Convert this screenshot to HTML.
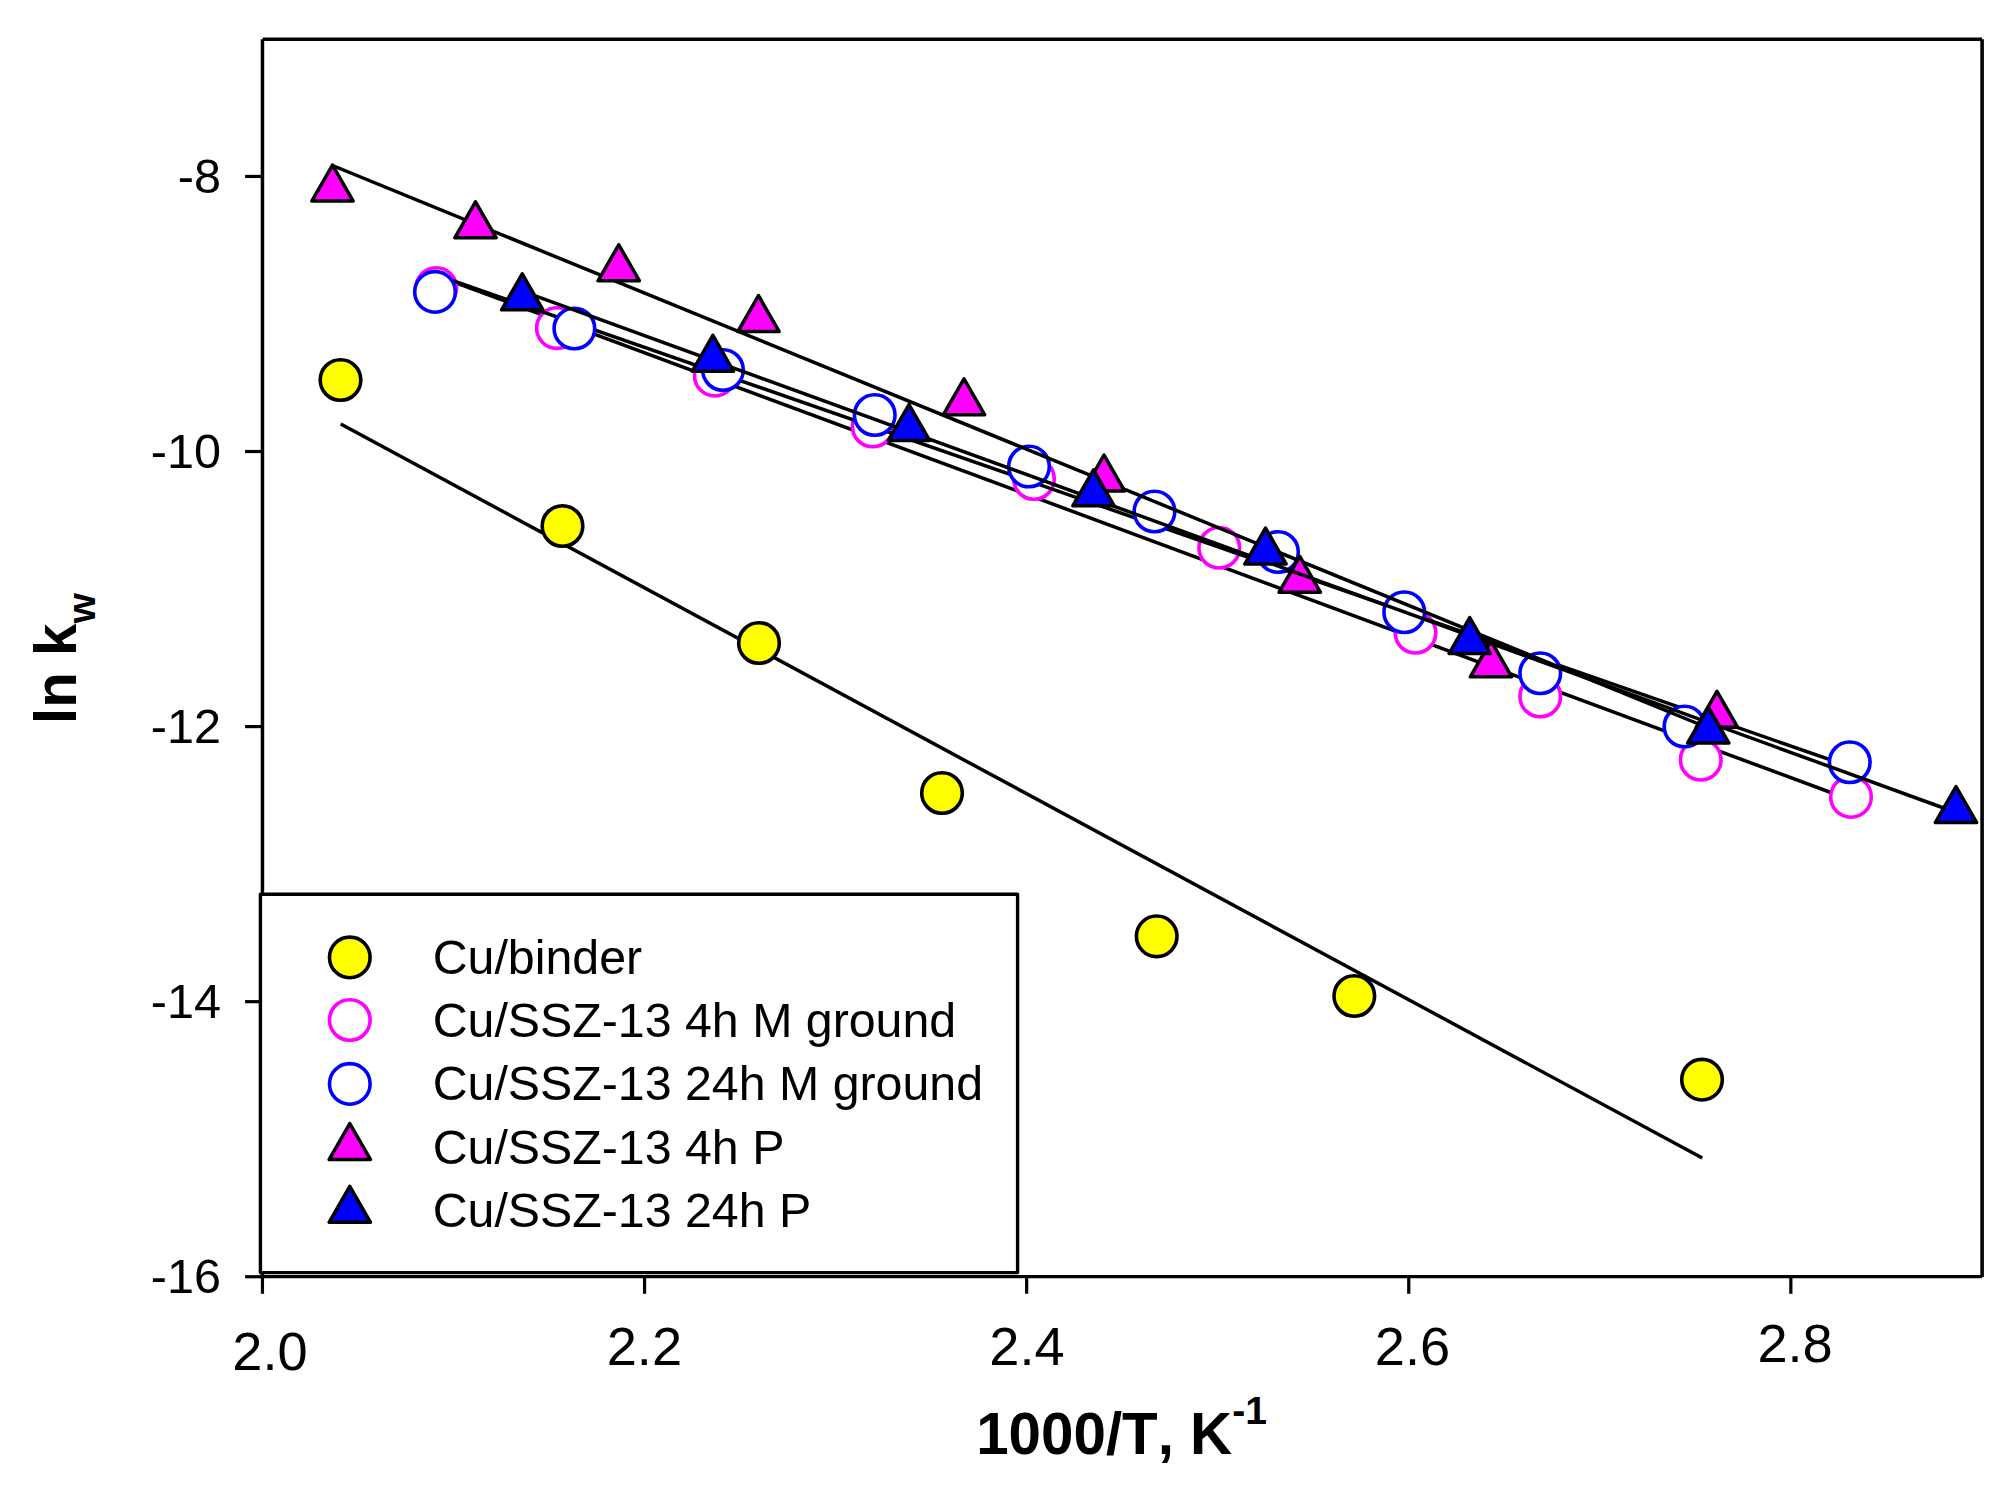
<!DOCTYPE html>
<html><head><meta charset="utf-8"><title>ln kw vs 1000/T</title>
<style>
html,body{margin:0;padding:0;background:#fff;}
svg{display:block}
text{font-family:"Liberation Sans",sans-serif;fill:#000;font-kerning:none}
.b{font-weight:bold}
</style></head><body>
<svg width="2016" height="1496" viewBox="0 0 2016 1496">
<rect x="0" y="0" width="2016" height="1496" fill="#fff"/>
<line x1="262.45" y1="39.27" x2="262.45" y2="1278.20" stroke="#000" stroke-width="3.5"/>
<line x1="262.75" y1="39.27" x2="1982.10" y2="39.27" stroke="#000" stroke-width="3.5"/>
<line x1="1982.10" y1="39.27" x2="1982.10" y2="1276.90" stroke="#000" stroke-width="3.6"/>
<line x1="262.45" y1="1276.60" x2="1982.10" y2="1276.60" stroke="#000" stroke-width="3.2"/>
<line x1="245.10" y1="176.45" x2="262.45" y2="176.45" stroke="#000" stroke-width="3.2"/>
<line x1="245.10" y1="451.52" x2="262.45" y2="451.52" stroke="#000" stroke-width="3.2"/>
<line x1="245.10" y1="726.59" x2="262.45" y2="726.59" stroke="#000" stroke-width="3.2"/>
<line x1="245.10" y1="1001.66" x2="262.45" y2="1001.66" stroke="#000" stroke-width="3.2"/>
<line x1="245.10" y1="1276.73" x2="262.45" y2="1276.73" stroke="#000" stroke-width="3.2"/>
<line x1="262.45" y1="1276.60" x2="262.45" y2="1293.80" stroke="#000" stroke-width="3.2"/>
<line x1="644.55" y1="1276.60" x2="644.55" y2="1293.80" stroke="#000" stroke-width="3.2"/>
<line x1="1026.65" y1="1276.60" x2="1026.65" y2="1293.80" stroke="#000" stroke-width="3.2"/>
<line x1="1408.75" y1="1276.60" x2="1408.75" y2="1293.80" stroke="#000" stroke-width="3.2"/>
<line x1="1790.85" y1="1276.60" x2="1790.85" y2="1293.80" stroke="#000" stroke-width="3.2"/>
<line x1="340.75" y1="424.00" x2="1702.30" y2="1158.00" stroke="#000" stroke-width="3.5"/>
<circle cx="340.50" cy="380.00" r="20.3" fill="#ffff00" stroke="#000" stroke-width="3.6"/>
<circle cx="562.50" cy="526.00" r="20.3" fill="#ffff00" stroke="#000" stroke-width="3.6"/>
<circle cx="759.00" cy="643.00" r="20.3" fill="#ffff00" stroke="#000" stroke-width="3.6"/>
<circle cx="942.00" cy="793.00" r="20.3" fill="#ffff00" stroke="#000" stroke-width="3.6"/>
<circle cx="1156.70" cy="936.30" r="20.3" fill="#ffff00" stroke="#000" stroke-width="3.6"/>
<circle cx="1354.30" cy="996.00" r="20.3" fill="#ffff00" stroke="#000" stroke-width="3.6"/>
<circle cx="1702.00" cy="1079.70" r="20.3" fill="#ffff00" stroke="#000" stroke-width="3.6"/>
<line x1="436.25" y1="275.50" x2="1851.00" y2="800.00" stroke="#000" stroke-width="3.5"/>
<circle cx="436.25" cy="288.10" r="20.3" fill="#fff" stroke="#ff00ff" stroke-width="3.6"/>
<circle cx="556.90" cy="328.10" r="20.3" fill="#fff" stroke="#ff00ff" stroke-width="3.6"/>
<circle cx="714.80" cy="375.70" r="20.3" fill="#fff" stroke="#ff00ff" stroke-width="3.6"/>
<circle cx="872.75" cy="426.50" r="20.3" fill="#fff" stroke="#ff00ff" stroke-width="3.6"/>
<circle cx="1034.00" cy="479.00" r="20.3" fill="#fff" stroke="#ff00ff" stroke-width="3.6"/>
<circle cx="1219.25" cy="547.75" r="20.3" fill="#fff" stroke="#ff00ff" stroke-width="3.6"/>
<circle cx="1415.50" cy="632.75" r="20.3" fill="#fff" stroke="#ff00ff" stroke-width="3.6"/>
<circle cx="1540.25" cy="696.50" r="20.3" fill="#fff" stroke="#ff00ff" stroke-width="3.6"/>
<circle cx="1700.75" cy="759.75" r="20.3" fill="#fff" stroke="#ff00ff" stroke-width="3.6"/>
<circle cx="1851.00" cy="796.90" r="20.3" fill="#fff" stroke="#ff00ff" stroke-width="3.6"/>
<line x1="435.00" y1="274.40" x2="1849.75" y2="766.50" stroke="#000" stroke-width="3.5"/>
<circle cx="435.00" cy="291.90" r="20.3" fill="#fff" stroke="#0000ff" stroke-width="3.6"/>
<circle cx="574.40" cy="328.50" r="20.3" fill="#fff" stroke="#0000ff" stroke-width="3.6"/>
<circle cx="723.00" cy="370.00" r="20.3" fill="#fff" stroke="#0000ff" stroke-width="3.6"/>
<circle cx="874.75" cy="415.00" r="20.3" fill="#fff" stroke="#0000ff" stroke-width="3.6"/>
<circle cx="1029.00" cy="466.50" r="20.3" fill="#fff" stroke="#0000ff" stroke-width="3.6"/>
<circle cx="1154.50" cy="511.50" r="20.3" fill="#fff" stroke="#0000ff" stroke-width="3.6"/>
<circle cx="1278.00" cy="552.00" r="20.3" fill="#fff" stroke="#0000ff" stroke-width="3.6"/>
<circle cx="1404.25" cy="612.25" r="20.3" fill="#fff" stroke="#0000ff" stroke-width="3.6"/>
<circle cx="1540.25" cy="673.25" r="20.3" fill="#fff" stroke="#0000ff" stroke-width="3.6"/>
<circle cx="1684.50" cy="726.50" r="20.3" fill="#fff" stroke="#0000ff" stroke-width="3.6"/>
<circle cx="1849.75" cy="762.25" r="20.3" fill="#fff" stroke="#0000ff" stroke-width="3.6"/>
<line x1="332.50" y1="165.50" x2="1717.00" y2="731.50" stroke="#000" stroke-width="3.5"/>
<polygon points="332.50,165.05 311.80,201.05 353.20,201.05" fill="#ff00ff" stroke="#000" stroke-width="3.5" stroke-linejoin="round"/>
<polygon points="475.50,201.80 454.80,237.80 496.20,237.80" fill="#ff00ff" stroke="#000" stroke-width="3.5" stroke-linejoin="round"/>
<polygon points="618.75,244.80 598.05,280.80 639.45,280.80" fill="#ff00ff" stroke="#000" stroke-width="3.5" stroke-linejoin="round"/>
<polygon points="758.50,295.55 737.80,331.55 779.20,331.55" fill="#ff00ff" stroke="#000" stroke-width="3.5" stroke-linejoin="round"/>
<polygon points="964.00,378.80 943.30,414.80 984.70,414.80" fill="#ff00ff" stroke="#000" stroke-width="3.5" stroke-linejoin="round"/>
<polygon points="1104.00,455.05 1083.30,491.05 1124.70,491.05" fill="#ff00ff" stroke="#000" stroke-width="3.5" stroke-linejoin="round"/>
<polygon points="1299.75,556.30 1279.05,592.30 1320.45,592.30" fill="#ff00ff" stroke="#000" stroke-width="3.5" stroke-linejoin="round"/>
<polygon points="1491.00,640.85 1470.30,676.85 1511.70,676.85" fill="#ff00ff" stroke="#000" stroke-width="3.5" stroke-linejoin="round"/>
<polygon points="1717.00,691.30 1696.30,727.30 1737.70,727.30" fill="#ff00ff" stroke="#000" stroke-width="3.5" stroke-linejoin="round"/>
<line x1="522.25" y1="291.10" x2="1956.00" y2="812.50" stroke="#000" stroke-width="3.5"/>
<polygon points="522.25,273.80 501.55,309.80 542.95,309.80" fill="#0000ff" stroke="#000" stroke-width="3.5" stroke-linejoin="round"/>
<polygon points="712.90,335.25 692.20,371.25 733.60,371.25" fill="#0000ff" stroke="#000" stroke-width="3.5" stroke-linejoin="round"/>
<polygon points="909.00,404.55 888.30,440.55 929.70,440.55" fill="#0000ff" stroke="#000" stroke-width="3.5" stroke-linejoin="round"/>
<polygon points="1093.50,469.85 1072.80,505.85 1114.20,505.85" fill="#0000ff" stroke="#000" stroke-width="3.5" stroke-linejoin="round"/>
<polygon points="1265.50,528.05 1244.80,564.05 1286.20,564.05" fill="#0000ff" stroke="#000" stroke-width="3.5" stroke-linejoin="round"/>
<polygon points="1469.75,617.55 1449.05,653.55 1490.45,653.55" fill="#0000ff" stroke="#000" stroke-width="3.5" stroke-linejoin="round"/>
<polygon points="1708.25,707.05 1687.55,743.05 1728.95,743.05" fill="#0000ff" stroke="#000" stroke-width="3.5" stroke-linejoin="round"/>
<polygon points="1956.00,786.55 1935.30,822.55 1976.70,822.55" fill="#0000ff" stroke="#000" stroke-width="3.5" stroke-linejoin="round"/>
<rect x="260.4" y="894.3" width="757.2" height="378.29999999999995" fill="#fff" stroke="#000" stroke-width="3.4" stroke-linejoin="round"/>
<circle cx="349.80" cy="957.40" r="20.3" fill="#ffff00" stroke="#000" stroke-width="3.6"/>
<circle cx="349.80" cy="1020.00" r="20.3" fill="#fff" stroke="#ff00ff" stroke-width="3.6"/>
<circle cx="349.80" cy="1083.90" r="20.3" fill="#fff" stroke="#0000ff" stroke-width="3.6"/>
<polygon points="349.80,1123.55 329.10,1159.55 370.50,1159.55" fill="#ff00ff" stroke="#000" stroke-width="3.5" stroke-linejoin="round"/>
<polygon points="349.80,1186.35 329.10,1222.35 370.50,1222.35" fill="#0000ff" stroke="#000" stroke-width="3.5" stroke-linejoin="round"/>
<text x="432.7" y="973.6" font-size="48.3" class="r">Cu/binder</text>
<text x="432.7" y="1037.0" font-size="48.3" class="r">Cu/SSZ-13 4h M ground</text>
<text x="432.7" y="1100.4" font-size="48.3" class="r">Cu/SSZ-13 24h M ground</text>
<text x="432.7" y="1163.8" font-size="48.3" class="r">Cu/SSZ-13 4h P</text>
<text x="432.7" y="1227.2" font-size="48.3" class="r">Cu/SSZ-13 24h P</text>
<text x="221" y="193.0" font-size="48.6" text-anchor="end" class="r">-8</text>
<text x="221" y="468.1" font-size="48.6" text-anchor="end" class="r">-10</text>
<text x="221" y="743.2" font-size="48.6" text-anchor="end" class="r">-12</text>
<text x="221" y="1018.3" font-size="48.6" text-anchor="end" class="r">-14</text>
<text x="221" y="1293.3" font-size="48.6" text-anchor="end" class="r">-16</text>
<text x="270" y="1369.5" font-size="54.2" text-anchor="middle" class="r">2.0</text>
<text x="644.4" y="1364.8" font-size="54.2" text-anchor="middle" class="r">2.2</text>
<text x="1027" y="1364.8" font-size="54.2" text-anchor="middle" class="r">2.4</text>
<text x="1412.5" y="1364.6" font-size="54.2" text-anchor="middle" class="r">2.6</text>
<text x="1795.1" y="1361.6" font-size="54.2" text-anchor="middle" class="r">2.8</text>
<text x="976.2" y="1453.8" font-size="58.3" class="b">1000/T, K<tspan font-size="39" dy="-29.5">-1</tspan></text>
<text transform="translate(75.8,724) rotate(-90)" font-size="58.3" class="b">ln k<tspan font-size="39" dy="19">w</tspan></text>
</svg>
</body></html>
